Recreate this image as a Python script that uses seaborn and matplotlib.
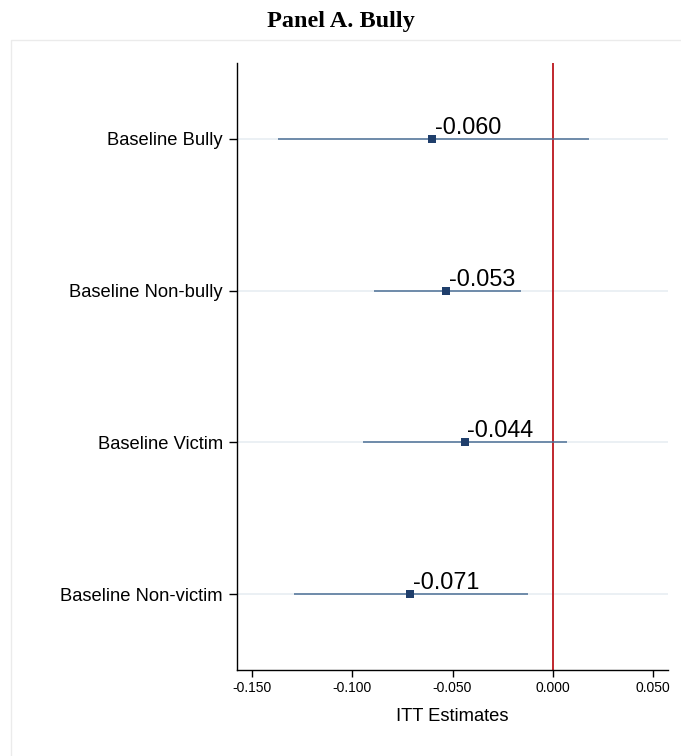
import matplotlib
matplotlib.use("Agg")
import matplotlib.pyplot as plt
from matplotlib.patches import Rectangle
import seaborn as sns
import pandas as pd

# ITT estimates with 95% confidence intervals by baseline subgroup
groups = ["Baseline Bully", "Baseline Non-bully", "Baseline Victim", "Baseline Non-victim"]
estimates = [-0.060, -0.053, -0.044, -0.071]
ci_low = [-0.137, -0.089, -0.0945, -0.129]
ci_high = [0.018, -0.016, 0.007, -0.0125]
x_ticks = [-0.150, -0.100, -0.050, 0.000, 0.050]

sns.set_theme(style="white")
plt.rcParams["font.family"] = ["Liberation Sans", "DejaVu Sans"]
plt.rcParams["text.color"] = "black"
plt.rcParams["axes.labelcolor"] = "black"
plt.rcParams["xtick.color"] = "black"
plt.rcParams["ytick.color"] = "black"

df = pd.DataFrame({
    "group": groups,
    "pos": range(1, len(groups) + 1),
    "est": estimates,
    "lo": ci_low,
    "hi": ci_high,
})

fig = plt.figure(figsize=(6.81, 7.56), dpi=100)
ax = fig.add_axes([237 / 681, 86 / 756, 431 / 681, 607 / 756])

# light frame around the plot region
fig.patches.append(Rectangle((11 / 681, -0.01), 1.0, (756 - 40) / 756 + 0.01,
                             transform=fig.transFigure, fill=False,
                             edgecolor="#ebebeb", linewidth=1.0, zorder=0))

# horizontal guide lines at each group
for p in df["pos"]:
    ax.axhline(p, color="#e8edf2", linewidth=1.2, zorder=0)

# reference line at zero
ax.axvline(0, color="#c0272d", linewidth=1.4, zorder=1)

# confidence intervals
ax.hlines(df["pos"], df["lo"], df["hi"], color="#4d6f96", linewidth=1.1, zorder=2)

# point estimates
sns.scatterplot(data=df, x="est", y="pos", marker="s", s=38, color="#1f3e6b",
                edgecolor="#1f3e6b", linewidth=0, ax=ax, zorder=3, legend=False)

for _, r in df.iterrows():
    ax.annotate(f"{r['est']:.3f}", xy=(r["est"], r["pos"]), xytext=(2, 0),
                textcoords="offset points", ha="left", va="bottom",
                fontsize=16.8, color="black", zorder=4)

ax.set_xlim(-0.1575, 0.0575)
ax.set_ylim(4.5, 0.5)
ax.set_yticks(df["pos"])
ax.set_yticklabels(groups, fontsize=13.2)
ax.set_xticks(x_ticks)
ax.set_xticklabels([f"{t:.3f}" for t in x_ticks], fontsize=10)
ax.set_xlabel("ITT Estimates", fontsize=13.2, labelpad=9)
ax.set_ylabel("")

for side in ["top", "right"]:
    ax.spines[side].set_visible(False)
for side in ["left", "bottom"]:
    ax.spines[side].set_color("black")
    ax.spines[side].set_linewidth(1.0)
ax.tick_params(axis="y", which="both", left=True, length=6, width=1, color="black", pad=4)
ax.tick_params(axis="x", which="both", bottom=True, length=5, width=1, color="black", pad=3)

fig.text(0.5, 1 - 22 / 756, "Panel A. Bully", ha="center", va="center",
         fontsize=17.5, fontweight="bold", color="black",
         family=["Liberation Serif", "DejaVu Serif"])

fig.savefig("out.png", dpi=100)
